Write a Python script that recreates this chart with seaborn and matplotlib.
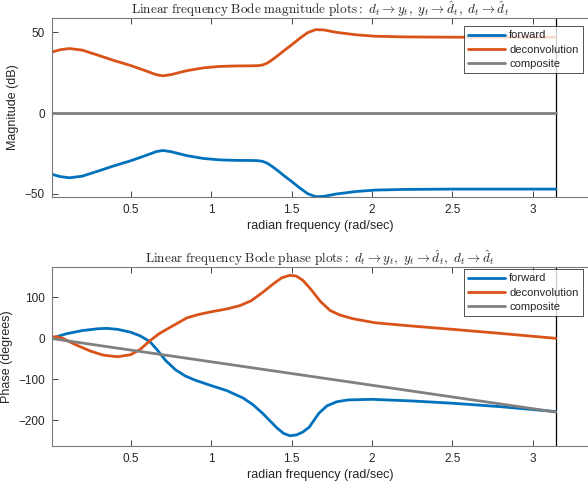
import numpy as np
import pandas as pd
import matplotlib
matplotlib.use("Agg")
import matplotlib.pyplot as plt
import seaborn as sns

# ---------------- data ----------------
mag_fwd_w = [0.011, 0.06, 0.12, 0.2, 0.3, 0.4, 0.5, 0.6, 0.66, 0.70, 0.75, 0.85,
             0.95, 1.05, 1.15, 1.25, 1.29, 1.32, 1.35, 1.38, 1.42, 1.46, 1.50,
             1.55, 1.60, 1.65, 1.70, 1.78, 1.9, 2.02, 2.2, 2.5, 2.8, 3.1416]
mag_fwd = [-37.8, -39.2, -40.0, -39.0, -35.8, -32.5, -29.5, -26.0, -23.8, -23.1,
           -23.8, -26.3, -28.0, -28.9, -29.2, -29.3, -29.4, -29.8, -31.0, -33.0,
           -36.0, -39.2, -42.2, -46.2, -49.8, -51.7, -51.5, -50.0, -48.5, -47.6,
           -47.2, -47.0, -47.0, -47.0]
mag_dec_w = mag_fwd_w
mag_dec = [37.8, 39.2, 40.0, 39.0, 35.8, 32.5, 29.5, 26.0, 23.8, 23.1,
           23.8, 26.3, 28.0, 28.9, 29.2, 29.3, 29.4, 29.8, 31.0, 33.0,
           36.0, 39.2, 42.2, 46.2, 49.8, 51.7, 51.5, 50.0, 48.5, 47.6,
           47.2, 47.0, 47.0, 47.0]
mag_comp_w = [0.011, 3.1416]
mag_comp = [0.0, 0.0]

ph_fwd_w = [0.011, 0.05, 0.1, 0.2, 0.3, 0.35, 0.42, 0.5, 0.56, 0.62, 0.665, 0.72,
            0.78, 0.84, 0.90, 0.99, 1.1, 1.20, 1.26, 1.32, 1.37, 1.41, 1.45,
            1.49, 1.53, 1.57, 1.61, 1.67, 1.72, 1.78, 1.85, 2.0, 2.25, 2.5,
            2.8, 3.1416]
ph_fwd = [0, 5, 11, 19, 23.5, 24.4, 22, 15, 6, -8, -28, -55, -77, -92, -102,
          -114, -128, -146, -162, -183, -203, -219, -232, -238, -236, -229,
          -217, -183, -165, -155, -150.5, -149, -153, -158.5, -167, -179]
ph_dec_w = [0.011, 0.04, 0.08, 0.15, 0.25, 0.33, 0.42, 0.5, 0.56, 0.62, 0.68,
            0.76, 0.85, 0.92, 0.99, 1.1, 1.18, 1.25, 1.32, 1.39, 1.44, 1.49,
            1.53, 1.57, 1.62, 1.68, 1.74, 1.80, 1.88, 2.02, 2.25, 2.5, 2.8,
            3.1416]
ph_dec = [3, 4, 0, -14, -31, -41, -45, -40, -27, -6, 12, 30, 50, 58, 64, 72,
          80, 92, 112, 134, 148, 154, 152, 142, 120, 90, 68, 57, 48, 38, 30,
          22, 12, 0]
ph_comp_w = [0.011, 3.1416]
ph_comp = [-0.6, -180.0]

series_names = ["forward", "deconvolution", "composite"]
x_ticks = [0.5, 1, 1.5, 2, 2.5, 3]
mag_ticks = [-50, 0, 50]
ph_ticks = [-200, -100, 0, 100]

# ---------------- style ----------------
sns.set_style("white")
plt.rcParams["font.family"] = ["Liberation Sans", "DejaVu Sans"]
plt.rcParams["mathtext.fontset"] = "cm"

colors = {"forward": "#0072BD", "deconvolution": "#D95319", "composite": "#808080"}


def long_df(ws, vals):
    frames = []
    for name, w, v in zip(series_names, ws, vals):
        frames.append(pd.DataFrame({"w": w, "v": v, "series": name}))
    return pd.concat(frames, ignore_index=True)


df_mag = long_df([mag_fwd_w, mag_dec_w, mag_comp_w], [mag_fwd, mag_dec, mag_comp])
df_ph = long_df([ph_fwd_w, ph_dec_w, ph_comp_w], [ph_fwd, ph_dec, ph_comp])

fig = plt.figure(figsize=(5.88, 4.92), dpi=100)
ax1 = fig.add_axes([52 / 588, 1 - 196.7 / 492, 1 - 52 / 588, (196.7 - 18.3) / 492])
ax2 = fig.add_axes([52 / 588, 1 - 446 / 492, 1 - 52 / 588, (446 - 266.7) / 492])

spine_col = "#7a7a7a"


def style(ax, df, ylim, yticks, ylabel, title, leg_top):
    sns.lineplot(data=df, x="w", y="v", hue="series", hue_order=series_names,
                 palette=colors, sort=False, estimator=None, linewidth=2.0,
                 ax=ax, legend=True)
    ax.set_xlim(0.012, 3.342)
    ax.set_ylim(*ylim)
    ax.set_xticks(x_ticks)
    ax.set_xticklabels([f"{t:g}" for t in x_ticks])
    ax.set_yticks(yticks)
    ax.tick_params(axis="both", direction="in", length=4, width=0.6,
                   colors="#262626", labelsize=8.5, top=True, right=False,
                   bottom=True, left=True, pad=5)
    for s in ["left", "top", "bottom"]:
        ax.spines[s].set_color(spine_col)
        ax.spines[s].set_linewidth(0.8)
    ax.spines["right"].set_visible(False)
    ax.axvline(np.pi, color="black", linewidth=0.9, zorder=1)
    ax.set_xlabel("radian frequency (rad/sec)", fontsize=9, color="#262626",
                  labelpad=3)
    ax.set_ylabel(ylabel, fontsize=9, color="#262626", labelpad=4)
    ax.set_title(title, fontsize=9.5, pad=3)
    handles, labels = ax.get_legend_handles_labels()
    leg = ax.legend(handles, labels, loc="upper right",
                    bbox_to_anchor=(0.9907, leg_top), borderaxespad=0,
                    fontsize=8, frameon=True, fancybox=False, handlelength=3.3,
                    handletextpad=0.4, labelspacing=0.38, borderpad=0.4)
    leg.get_frame().set_edgecolor("#262626")
    leg.get_frame().set_linewidth(0.7)
    for line in leg.get_lines():
        line.set_linewidth(2.0)


style(ax1, df_mag, (-51.7, 58.7), mag_ticks, "Magnitude (dB)",
      r"$\mathrm{Linear\ frequency\ Bode\ magnitude\ plots}{:}\ d_t \rightarrow y_t,\ y_t \rightarrow \hat{d}_t,\ d_t \rightarrow \hat{d}_t$",
      0.957)
style(ax2, df_ph, (-263, 175), ph_ticks, "Phase (degrees)",
      r"$\mathrm{Linear\ frequency\ Bode\ phase\ plots}{:}\ d_t \rightarrow y_t,\ y_t \rightarrow \hat{d}_t,\ d_t \rightarrow \hat{d}_t$",
      0.987)

fig.savefig("out.png", dpi=100)
